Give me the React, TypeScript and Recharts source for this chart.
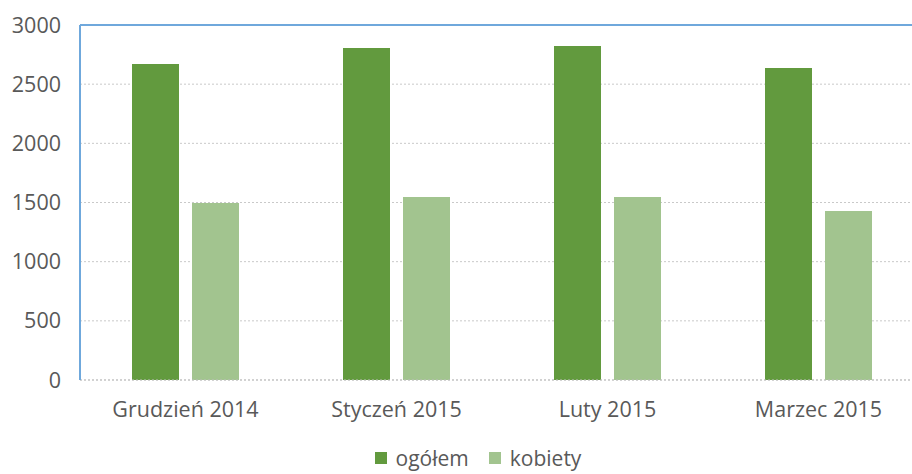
import { BarChart, Bar, XAxis, YAxis, CartesianGrid, Legend, ReferenceLine } from "recharts";

const months = ["Grudzień 2014", "Styczeń 2015", "Luty 2015", "Marzec 2015"];
const ogolem = [2670, 2806, 2822, 2637];
const kobiety = [1495, 1546, 1546, 1428];
const yTicks = [0, 500, 1000, 1500, 2000, 2500, 3000];

const series = [
  { key: "ogolem", name: "ogółem", color: "#629A3E" },
  { key: "kobiety", name: "kobiety", color: "#A2C48F" },
];

const data = months.map((m, i) => ({ month: m, ogolem: ogolem[i], kobiety: kobiety[i] }));

const font = "'Open Sans', sans-serif";
const textColor = "#595959";

function LegendContent() {
  return (
    <div style={{ display: "flex", justifyContent: "center", gap: 20, marginLeft: 32, paddingTop: 2, fontFamily: font, fontSize: 21, color: textColor, lineHeight: "24px" }}>
      {series.map((s) => (
        <div key={s.key} style={{ display: "flex", alignItems: "center", gap: 9 }}>
          <span style={{ width: 12, height: 12, background: s.color, display: "inline-block" }} />
          <span>{s.name}</span>
        </div>
      ))}
    </div>
  );
}

export default function App() {
  return (
    <div style={{ position: "absolute", left: 0, top: 0, width: 912, height: 474, overflow: "hidden", background: "#fff" }}>
      <BarChart
        width={924}
        height={474}
        data={data}
        margin={{ top: 25, right: 0, left: 0, bottom: 0 }}
        barGap={13}
        barSize={47}
      >
        <CartesianGrid vertical={false} stroke="#c9c9c9" strokeDasharray="2 2" />
        <XAxis
          dataKey="month"
          height={64}
          tickLine={false}
          tickSize={0}
          tickMargin={22}
          axisLine={{ stroke: "#bfbfbf", strokeDasharray: "2 2" }}
          tick={{ fill: textColor, fontSize: 21.5, fontFamily: font }}
        />
        <YAxis
          width={80}
          domain={[0, 3000]}
          ticks={yTicks}
          interval={0}
          tickLine={false}
          tickSize={0}
          tickMargin={19}
          axisLine={{ stroke: "#6fa8dc", strokeWidth: 2 }}
          tick={{ fill: textColor, fontSize: 21.5, fontFamily: font }}
        />
        <ReferenceLine y={3000} stroke="#6fa8dc" strokeWidth={2} />
        <Legend verticalAlign="bottom" height={30} content={<LegendContent />} />
        {series.map((s) => (
          <Bar key={s.key} dataKey={s.key} name={s.name} fill={s.color} isAnimationActive={false} />
        ))}
      </BarChart>
    </div>
  );
}
